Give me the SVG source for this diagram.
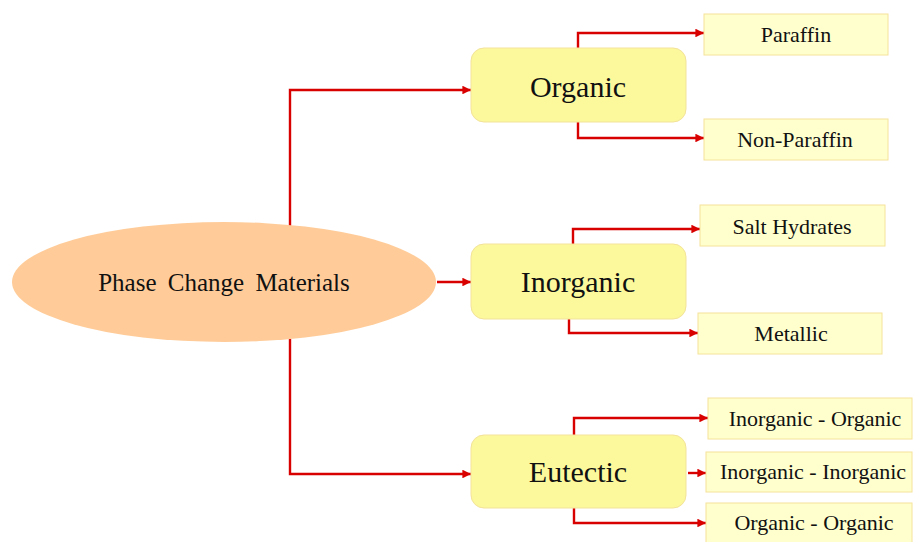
<svg xmlns="http://www.w3.org/2000/svg" width="913" height="542" viewBox="0 0 913 542">
<defs>
<marker id="arr" viewBox="0 0 10 10" refX="10" refY="5" markerWidth="3.6" markerHeight="3.6" markerUnits="strokeWidth" orient="auto">
<path d="M0,0 L10,5 L0,10 Z" fill="#D90000"/>
</marker>
<style>
.main{fill:#FCF99D;stroke:#F3E39A;stroke-width:1}
.leaf{fill:#FFFFCE;stroke:#F5E29A;stroke-width:1}
text{font-family:'Liberation Serif','Times New Roman',Times,serif;fill:#111;text-anchor:middle}
.big{font-size:30px}
.sm{font-size:22px}
.con{fill:none;stroke:#D90000;stroke-width:2.4;marker-end:url(#arr)}
</style>
</defs>
<rect width="913" height="542" fill="#ffffff"/>
<g id="connectors">
<path class="con" d="M290,226 V90 H471"/>
<path class="con" d="M437,282 H471"/>
<path class="con" d="M290,339 V474 H471"/>
<path class="con" d="M578,48 V33 H704"/>
<path class="con" d="M578,122 V138 H704"/>
<path class="con" d="M573,244 V229 H700"/>
<path class="con" d="M569,319 V333 H698"/>
<path class="con" d="M574,435 V418 H708"/>
<path class="con" d="M688,473 H706"/>
<path class="con" d="M574,508 V523 H706"/>
</g>
<g id="pcm">
<ellipse cx="224" cy="282" rx="212" ry="60" fill="#FFCC99"/>
<text x="224" y="291" style="font-size:25px;word-spacing:5px">Phase Change Materials</text>
</g>
<g id="organic">
<rect class="main" x="471" y="48" width="215" height="74" rx="13"/>
<text class="big" x="578" y="97">Organic</text>
</g>
<g id="inorganic">
<rect class="main" x="471" y="244" width="215" height="75" rx="13"/>
<text class="big" x="578" y="292">Inorganic</text>
</g>
<g id="eutectic">
<rect class="main" x="471" y="435" width="215" height="73" rx="13"/>
<text class="big" x="578" y="482">Eutectic</text>
</g>
<g id="paraffin">
<rect class="leaf" x="704" y="14" width="184" height="41"/>
<text class="sm" x="796" y="42">Paraffin</text>
</g>
<g id="nonparaffin">
<rect class="leaf" x="704" y="119" width="184" height="41"/>
<text class="sm" x="795" y="147">Non-Paraffin</text>
</g>
<g id="salthydrates">
<rect class="leaf" x="700" y="205" width="185" height="41"/>
<text class="sm" x="792" y="234">Salt Hydrates</text>
</g>
<g id="metallic">
<rect class="leaf" x="698" y="313" width="184" height="41"/>
<text class="sm" x="791" y="341">Metallic</text>
</g>
<g id="inorg-org">
<rect class="leaf" x="708" y="398" width="204" height="41"/>
<text class="sm" x="815" y="426">Inorganic - Organic</text>
</g>
<g id="inorg-inorg">
<rect class="leaf" x="706" y="452" width="206" height="40"/>
<text class="sm" x="813" y="479">Inorganic - Inorganic</text>
</g>
<g id="org-org">
<rect class="leaf" x="706" y="503" width="206" height="42"/>
<text class="sm" x="814" y="530">Organic - Organic</text>
</g>
</svg>
